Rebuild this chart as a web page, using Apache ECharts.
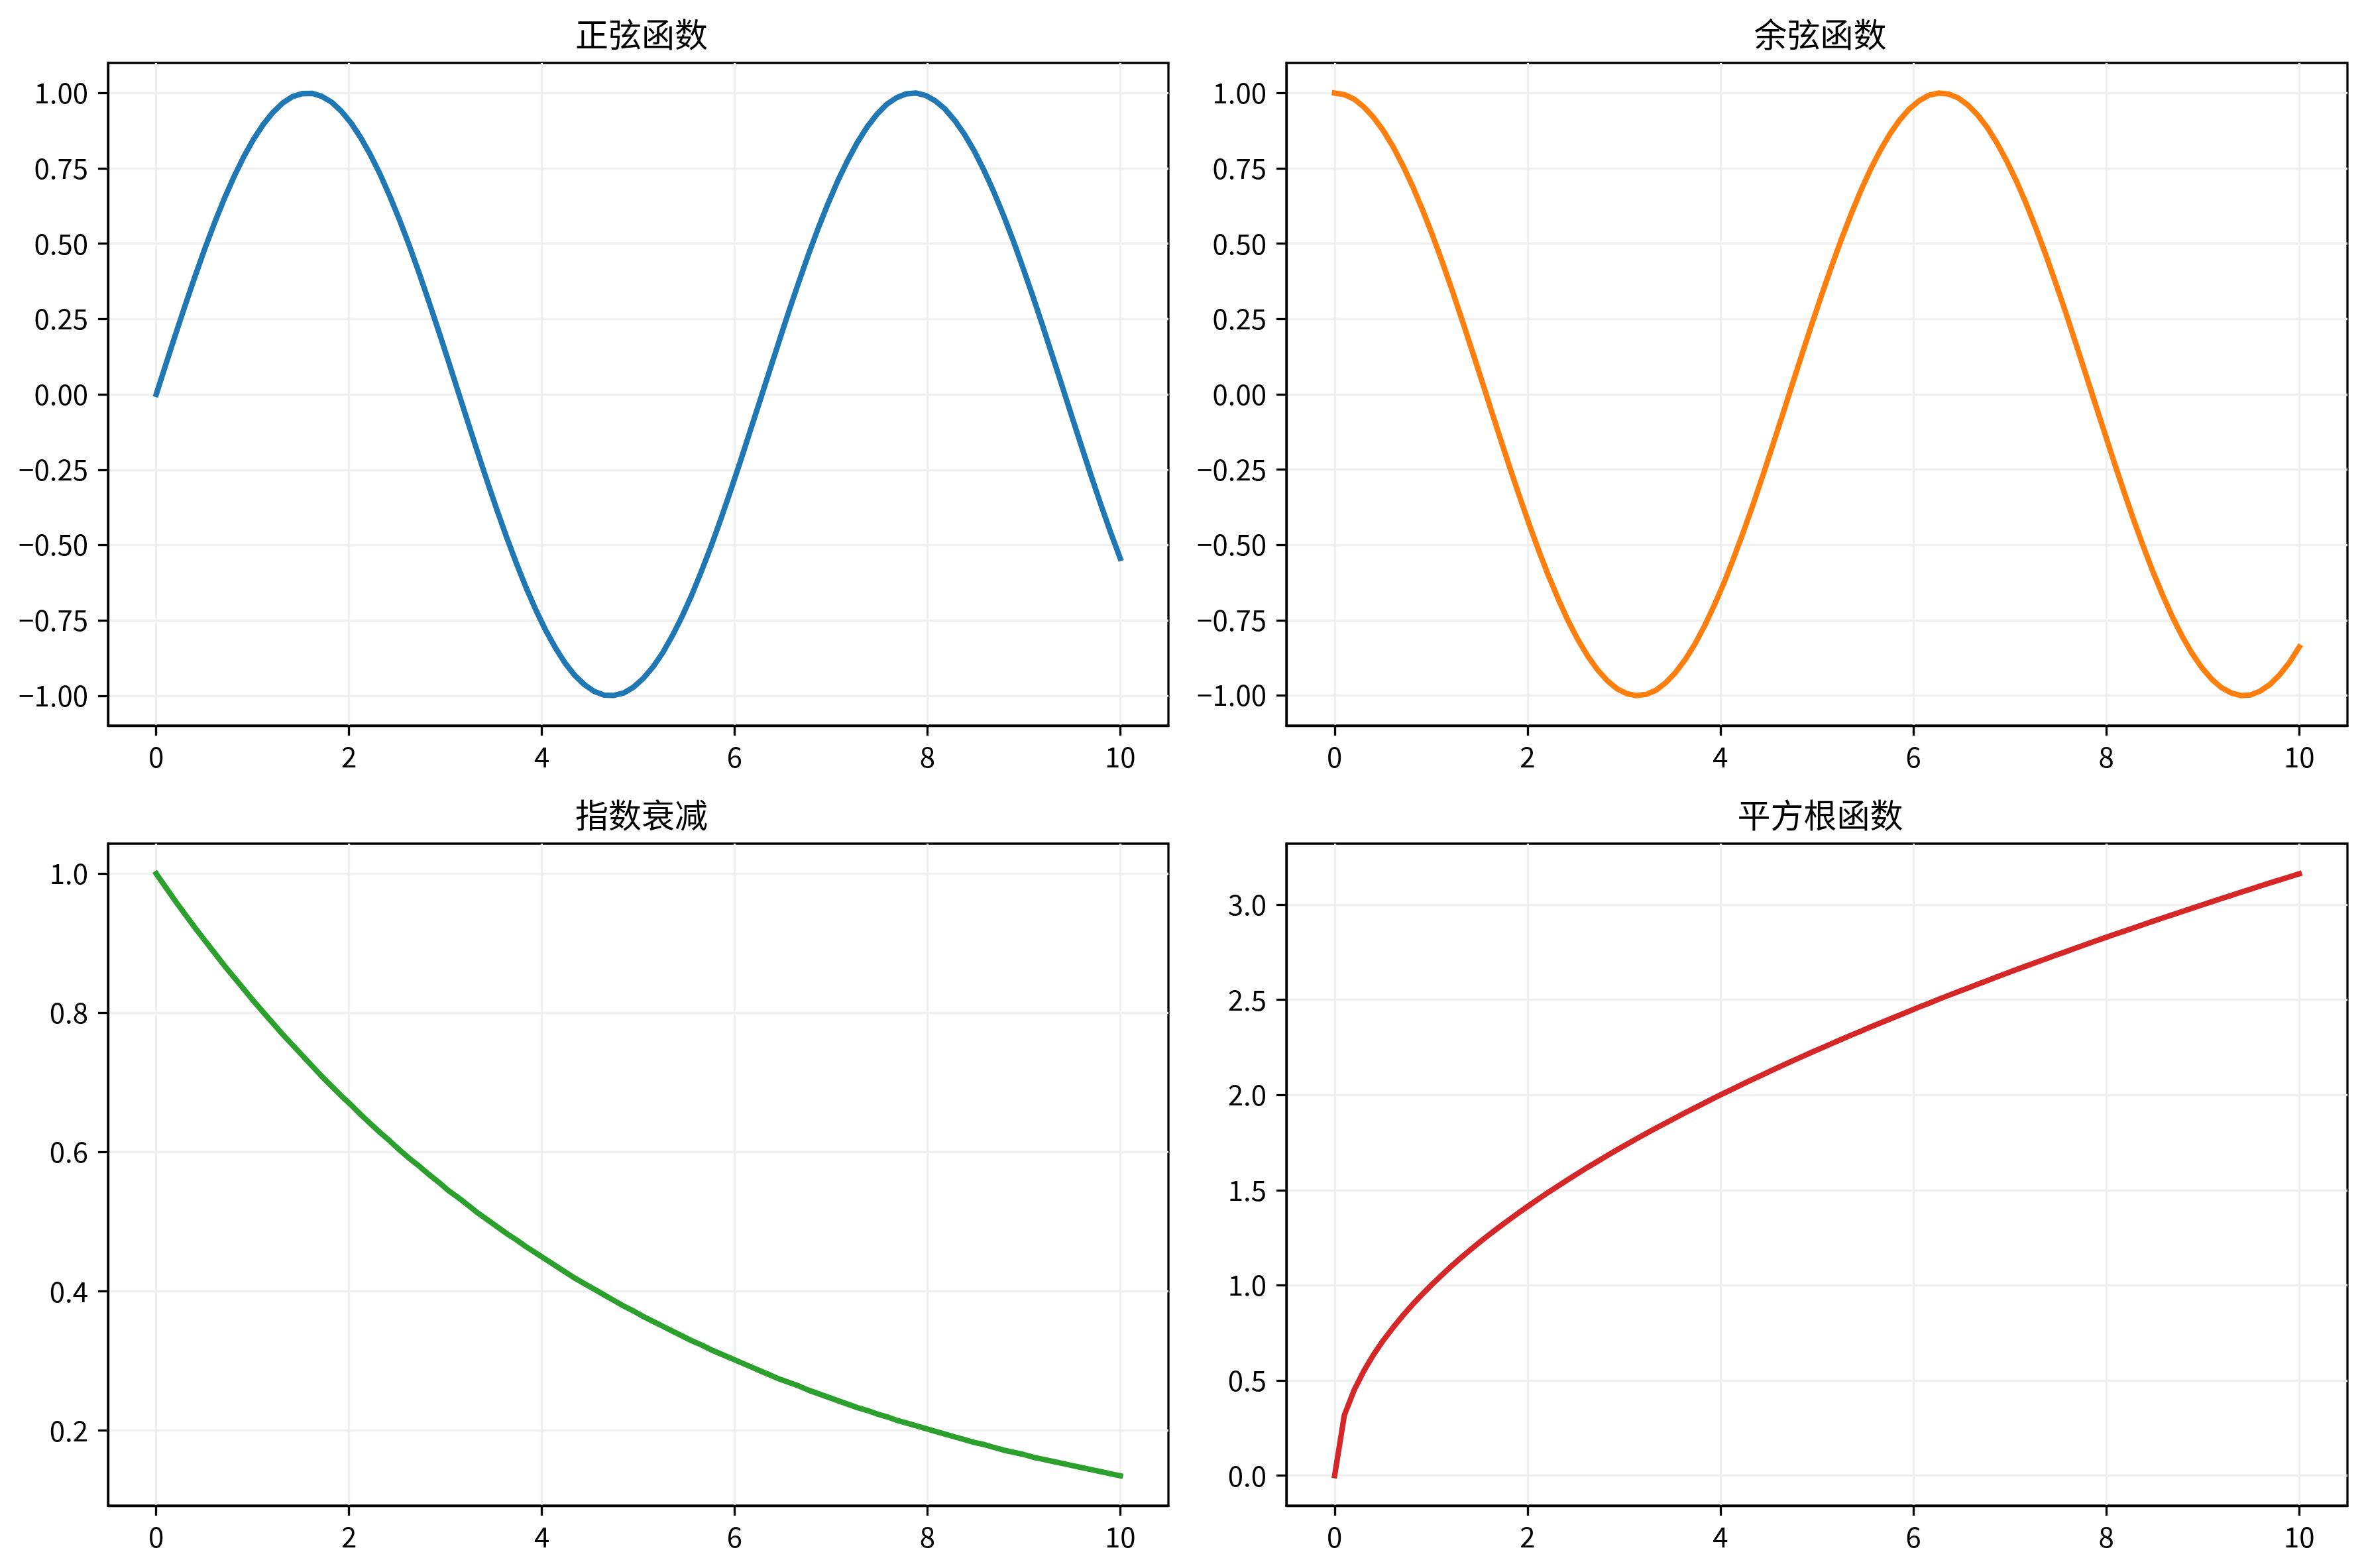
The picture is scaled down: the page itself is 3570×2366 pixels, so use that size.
<!DOCTYPE html>
<html>
<head>
<meta charset="utf-8">
<script src="https://cdn.jsdelivr.net/npm/echarts@6/dist/echarts.min.js"></script>
<style>
html,body{margin:0;padding:0;background:#fff;}
#chart{width:3570px;height:2366px;}
</style>
</head>
<body>
<div id="chart"></div>
<script>
// ---- data ----
const xValues = [0,0.101,0.202,0.303,0.404,0.505,0.606,0.707,0.808,0.909,
1.010,1.111,1.212,1.313,1.414,1.515,1.616,1.717,1.818,1.919,
2.020,2.121,2.222,2.323,2.424,2.525,2.626,2.727,2.828,2.929,
3.030,3.131,3.232,3.333,3.434,3.535,3.636,3.737,3.838,3.939,
4.040,4.141,4.242,4.343,4.444,4.545,4.646,4.747,4.848,4.949,
5.051,5.152,5.253,5.354,5.455,5.556,5.657,5.758,5.859,5.960,
6.061,6.162,6.263,6.364,6.465,6.566,6.667,6.768,6.869,6.970,
7.071,7.172,7.273,7.374,7.475,7.576,7.677,7.778,7.879,7.980,
8.081,8.182,8.283,8.384,8.485,8.586,8.687,8.788,8.889,8.990,
9.091,9.192,9.293,9.394,9.495,9.596,9.697,9.798,9.899,10];

const sinValues = [0,0.101,0.201,0.298,0.393,0.484,0.570,0.650,0.723,0.789,
0.847,0.896,0.936,0.967,0.988,0.998,0.999,0.989,0.970,0.940,
0.901,0.852,0.795,0.730,0.657,0.578,0.493,0.403,0.308,0.211,
0.111,0.010,-0.091,-0.191,-0.289,-0.384,-0.475,-0.561,-0.642,-0.716,
-0.783,-0.841,-0.892,-0.933,-0.964,-0.986,-0.998,-0.999,-0.991,-0.972,
-0.943,-0.905,-0.858,-0.801,-0.737,-0.665,-0.586,-0.502,-0.412,-0.318,
-0.221,-0.121,-0.021,0.080,0.180,0.279,0.374,0.466,0.553,0.634,
0.709,0.776,0.836,0.887,0.929,0.962,0.984,0.997,1.000,0.992,
0.974,0.947,0.909,0.863,0.808,0.744,0.673,0.595,0.511,0.421,
0.328,0.231,0.131,0.031,-0.070,-0.170,-0.269,-0.365,-0.457,-0.544];

const cosValues = [1,0.995,0.980,0.954,0.919,0.875,0.822,0.760,0.691,0.614,
0.532,0.444,0.351,0.255,0.156,0.056,-0.045,-0.146,-0.245,-0.341,
-0.434,-0.523,-0.606,-0.683,-0.754,-0.816,-0.870,-0.915,-0.951,-0.978,
-0.994,-1.000,-0.996,-0.982,-0.957,-0.923,-0.880,-0.828,-0.767,-0.698,
-0.623,-0.540,-0.453,-0.361,-0.265,-0.166,-0.066,0.035,0.136,0.235,
0.332,0.425,0.514,0.598,0.676,0.747,0.810,0.865,0.911,0.948,
0.975,0.993,1.000,0.997,0.984,0.960,0.927,0.885,0.833,0.773,
0.706,0.631,0.549,0.462,0.370,0.275,0.176,0.076,-0.025,-0.125,
-0.225,-0.322,-0.416,-0.505,-0.590,-0.668,-0.740,-0.804,-0.860,-0.907,
-0.945,-0.973,-0.991,-1.000,-0.998,-0.985,-0.963,-0.931,-0.890,-0.839];

const expValues = [1.000,0.980,0.960,0.941,0.922,0.904,0.886,0.868,0.851,0.834,
0.817,0.801,0.785,0.769,0.754,0.739,0.724,0.709,0.695,0.681,
0.668,0.654,0.641,0.628,0.616,0.603,0.591,0.580,0.568,0.557,
0.545,0.535,0.524,0.513,0.503,0.493,0.483,0.474,0.464,0.455,
0.446,0.437,0.428,0.419,0.411,0.403,0.395,0.387,0.379,0.372,
0.364,0.357,0.350,0.343,0.336,0.329,0.323,0.316,0.310,0.304,
0.298,0.292,0.286,0.280,0.274,0.269,0.264,0.258,0.253,0.248,
0.243,0.238,0.233,0.229,0.224,0.220,0.215,0.211,0.207,0.203,
0.199,0.195,0.191,0.187,0.183,0.180,0.176,0.172,0.169,0.166,
0.162,0.159,0.156,0.153,0.150,0.147,0.144,0.141,0.138,0.135];

const sqrtValues = [0,0.318,0.449,0.550,0.636,0.711,0.778,0.841,0.899,0.953,
1.005,1.054,1.101,1.146,1.189,1.231,1.271,1.310,1.348,1.385,
1.421,1.456,1.491,1.524,1.557,1.589,1.621,1.651,1.682,1.712,
1.741,1.770,1.798,1.826,1.853,1.880,1.907,1.933,1.959,1.985,
2.010,2.035,2.060,2.084,2.108,2.132,2.156,2.179,2.202,2.225,
2.247,2.270,2.292,2.314,2.335,2.357,2.378,2.399,2.420,2.441,
2.462,2.482,2.503,2.523,2.543,2.562,2.582,2.601,2.621,2.640,
2.659,2.678,2.697,2.715,2.734,2.752,2.771,2.789,2.807,2.825,
2.843,2.860,2.878,2.895,2.913,2.930,2.947,2.964,2.981,2.998,
3.015,3.032,3.048,3.065,3.081,3.098,3.114,3.130,3.146,3.162];

const titles = ['正弦函数', '余弦函数', '指数衰减', '平方根函数'];
const xTicks = [0, 2, 4, 6, 8, 10];
const sinTicks = [-1.00, -0.75, -0.50, -0.25, 0.00, 0.25, 0.50, 0.75, 1.00];
const cosTicks = [-1.00, -0.75, -0.50, -0.25, 0.00, 0.25, 0.50, 0.75, 1.00];
const expTicks = [0.2, 0.4, 0.6, 0.8, 1.0];
const sqrtTicks = [0.0, 0.5, 1.0, 1.5, 2.0, 2.5, 3.0];

// ---- layout / style ----
const FONT = 'Noto Sans CJK SC';
const colors = ['#1f77b4', '#ff7f0e', '#2ca02c', '#d62728'];
const series = [sinValues, cosValues, expValues, sqrtValues];
const yTicks = [sinTicks, cosTicks, expTicks, sqrtTicks];
const yDecimals = [2, 2, 1, 1];
const yRanges = [[-1.0994, 1.0997], [-1.1, 1.1], [0.0921, 1.0432], [-0.1581, 3.3204]];
const boxes = [
  {left: 163, top: 95, width: 1600, height: 1000},
  {left: 1941, top: 95, width: 1601, height: 1000},
  {left: 163, top: 1273, width: 1600, height: 999},
  {left: 1941, top: 1273, width: 1601, height: 999}
];
const AX = 3.3;
const gridColor = '#f0f0f0';

function fmt(v, d) {
  const s = Math.abs(v).toFixed(d);
  return (v < -1e-9 ? '\u2212' : '') + s;
}

const option = {
  backgroundColor: '#ffffff',
  animation: false,
  title: [], grid: [], xAxis: [], yAxis: [], series: []
};

boxes.forEach((b, i) => {
  option.title.push({
    text: titles[i],
    left: b.left + b.width / 2,
    top: b.top - 73,
    textAlign: 'center',
    textStyle: {fontFamily: FONT, fontSize: 50, fontWeight: 'normal', color: '#000'}
  });
  option.grid.push({
    left: b.left, top: b.top, width: b.width, height: b.height,
    show: true, borderColor: '#000', borderWidth: AX, backgroundColor: 'transparent',
    containLabel: false
  });
  option.xAxis.push({
    type: 'value', gridIndex: i, min: -0.5, max: 10.5,
    axisLine: {show: true, onZero: false, lineStyle: {color: '#000', width: AX}},
    axisTick: {show: true, inside: false, length: 15, customValues: xTicks, lineStyle: {color: '#000', width: AX}},
    axisLabel: {show: true, customValues: xTicks, margin: 26, fontFamily: FONT, fontSize: 42, color: '#000',
      formatter: v => String(Math.round(v))},
    splitLine: {show: true, lineStyle: {color: gridColor, width: AX}}
  });
  option.yAxis.push({
    type: 'value', gridIndex: i, min: yRanges[i][0], max: yRanges[i][1],
    axisLine: {show: true, onZero: false, lineStyle: {color: '#000', width: AX}},
    axisTick: {show: true, inside: false, length: 15, customValues: yTicks[i], lineStyle: {color: '#000', width: AX}},
    axisLabel: {show: true, customValues: yTicks[i], margin: 30, fontFamily: FONT, fontSize: 42, color: '#000',
      formatter: v => fmt(v, yDecimals[i])},
    splitLine: {show: true, lineStyle: {color: gridColor, width: AX}}
  });
  option.series.push({
    type: 'line', xAxisIndex: i, yAxisIndex: i,
    data: xValues.map((x, k) => [x, series[i][k]]),
    showSymbol: false, symbol: 'none', smooth: false,
    lineStyle: {color: colors[i], width: 8.3, cap: 'square', join: 'round'},
    itemStyle: {color: colors[i]},
    z: 3
  });
});

const chart = echarts.init(document.getElementById('chart'), null, {renderer: 'canvas', width: 3570, height: 2366});
chart.setOption(option);
</script>
</body>
</html>
